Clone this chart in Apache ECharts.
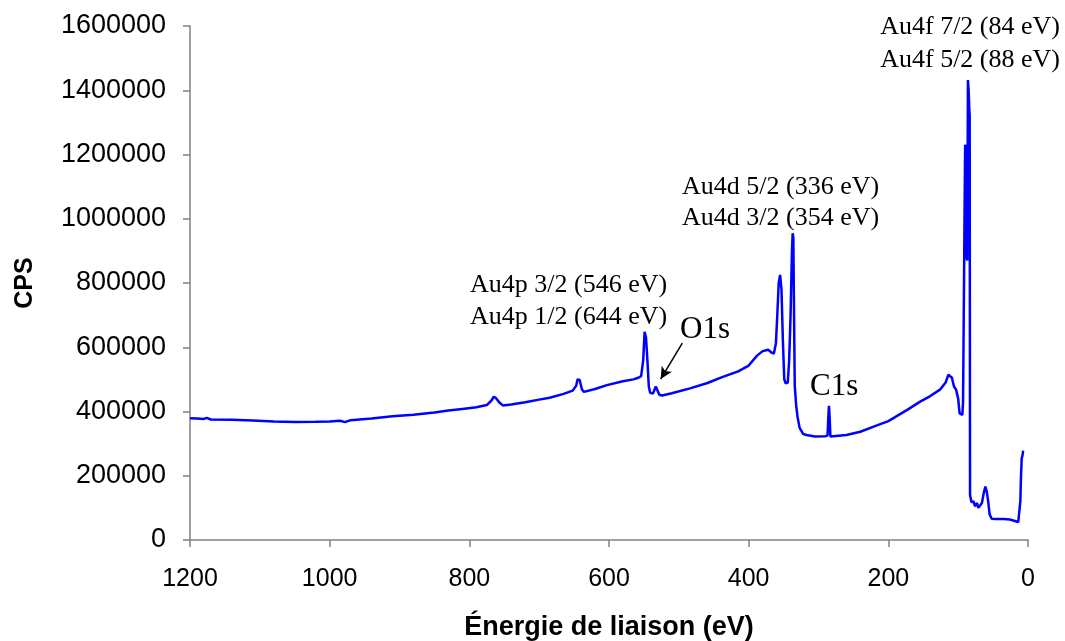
<!DOCTYPE html>
<html>
<head>
<meta charset="utf-8">
<script src="https://cdn.jsdelivr.net/npm/echarts@6/dist/echarts.min.js"></script>
<style>
  html, body { margin: 0; padding: 0; background: #fff; }
  #chart { width: 1065px; height: 641px; }
</style>
</head>
<body>
<div id="chart"></div>
<script>
const energy = [
  1200, 1190, 1180, 1176, 1170, 1140, 1110, 1080, 1050, 1020, 1000, 985, 978, 970, 940, 910,
  880, 850, 830, 810, 790, 775, 768, 765, 762, 757, 752, 740, 720, 700, 685, 665,
  652, 647, 645, 642, 639, 636, 620, 603, 580, 565, 558, 554, 551, 549, 547, 545,
  543, 541, 537, 533, 531, 528, 524, 510, 484, 460, 437, 415, 400, 388, 380, 372,
  367, 364, 361, 359, 357, 355, 353, 351, 349, 347, 344, 342, 340, 338, 337, 336,
  335, 334, 332, 330, 327, 322, 317, 305, 290, 287, 286, 285, 284, 283, 281, 260,
  240, 222, 200, 173, 155, 140, 126, 118, 114, 112, 109, 106, 103, 100, 98, 96,
  94, 93, 92, 91, 90, 89, 88, 87, 86, 85, 84, 83.5, 83, 81, 78, 76,
  73, 71, 69, 66, 63, 61, 59, 57, 55, 52, 45, 35, 26, 20, 14, 12,
  11, 10, 9, 8, 7
]
// counts per second, in thousands
const cpsK = [
  379, 378, 377, 380, 375, 374, 372, 369, 367, 368, 369, 371, 367, 373, 378, 385,
  390, 397, 403, 408, 413, 420, 435, 446, 442, 428, 419, 422, 429, 437, 443, 455,
  465, 480, 500, 498, 470, 461, 470, 482, 494, 500, 505, 510, 560, 648, 630, 560,
  478, 458, 456, 478, 476, 452, 450, 457, 472, 488, 508, 525, 543, 574, 588, 592,
  583, 580, 612, 700, 800, 825, 780, 620, 500, 488, 490, 560, 700, 900, 955, 940,
  700, 480, 420, 383, 349, 330, 327, 322, 323, 326, 380, 418, 380, 322, 318, 327,
  337, 352, 370, 405, 430, 448, 468, 490, 515, 520, 505, 478, 468, 440, 395, 389,
  389, 430, 700, 980, 1230, 1220, 880, 870, 1432, 1400, 1340, 1320, 140, 118, 120, 105,
  115, 100, 96, 115, 150, 166, 150, 120, 80, 66, 65, 65, 64, 60, 56, 60,
  120, 200, 255, 262, 278
]

const xTicks = [0, 200, 400, 600, 800, 1000, 1200]
const yTicks = [0, 200000, 400000, 600000, 800000, 1000000, 1200000, 1400000, 1600000]

// O1s arrow, tail then head, in data units
const o1sArrow = [[495, 613000], [526, 501000]]

const spectrum = energy.map((e, i) => [e, cpsK[i] * 1000])

const chart = echarts.init(document.getElementById('chart'))

const sans = 'Liberation Sans, Arial, sans-serif'
const serif = 'Liberation Serif, Times New Roman, serif'
const axisGrey = '#808080'

const anno = (text, x, y, align, size) => ({
  type: 'text',
  x,
  y,
  style: {
    text,
    x: 0,
    y: 0,
    fill: '#000',
    font: `${size}px ${serif}`,
    textAlign: align,
    textVerticalAlign: 'middle',
  },
})

const option = {
  animation: false,
  backgroundColor: '#fff',
  grid: {
    left: 190,
    right: 37,
    top: 26,
    bottom: 101,
    containLabel: false,
    outerBoundsMode: 'none',
  },
  xAxis: {
    type: 'value',
    inverse: true,
    min: xTicks[0],
    max: xTicks[xTicks.length - 1],
    interval: 200,
    name: 'Énergie de liaison (eV)',
    nameLocation: 'middle',
    nameGap: 74,
    nameTextStyle: {
      fontFamily: sans,
      fontWeight: 'bold',
      fontSize: 27,
      color: '#000',
    },
    axisLine: { show: true, onZero: false, lineStyle: { color: axisGrey, width: 1.5 } },
    axisTick: { show: true, inside: false, length: 7, lineStyle: { color: axisGrey, width: 1.5 } },
    axisLabel: {
      margin: 27,
      fontFamily: sans,
      fontSize: 25,
      color: '#000',
      formatter: (v) => String(v),
    },
    splitLine: { show: false },
  },
  yAxis: {
    type: 'value',
    position: 'left',
    min: yTicks[0],
    max: yTicks[yTicks.length - 1],
    interval: 200000,
    name: 'CPS',
    nameLocation: 'middle',
    nameGap: 152,
    nameTextStyle: {
      fontFamily: sans,
      fontWeight: 'bold',
      fontSize: 25,
      color: '#000',
    },
    axisLine: { show: true, onZero: false, lineStyle: { color: axisGrey, width: 1.5 } },
    axisTick: { show: true, inside: false, length: 7, lineStyle: { color: axisGrey, width: 1.5 } },
    axisLabel: {
      margin: 24,
      fontFamily: sans,
      fontSize: 27,
      color: '#000',
      formatter: (v) => String(v),
    },
    splitLine: { show: false },
  },
  series: [
    {
      type: 'line',
      data: spectrum,
      showSymbol: false,
      symbol: 'none',
      lineStyle: { color: '#0000ff', width: 2.5 },
      markLine: {
        silent: true,
        animation: false,
        label: { show: false },
        lineStyle: { color: '#000', width: 1.5, type: 'solid' },
        symbol: ['none', 'arrow'],
        symbolSize: [9, 12],
        data: [
          [
            { coord: o1sArrow[0] },
            { coord: o1sArrow[1] },
          ],
        ],
      },
    },
  ],
  graphic: [
    anno('Au4f 7/2 (84 eV)', 1060, 27, 'right', 26),
    anno('Au4f 5/2 (88 eV)', 1060, 60, 'right', 26),
    anno('Au4d 5/2 (336 eV)', 682, 187, 'left', 26),
    anno('Au4d 3/2 (354 eV)', 682, 218, 'left', 26),
    anno('Au4p 3/2 (546 eV)', 470, 285, 'left', 26),
    anno('Au4p 1/2 (644 eV)', 470, 317, 'left', 26),
    anno('O1s', 680, 330, 'left', 31),
    anno('C1s', 810, 387, 'left', 31),
  ],
}

chart.setOption(option)
</script>
</body>
</html>
